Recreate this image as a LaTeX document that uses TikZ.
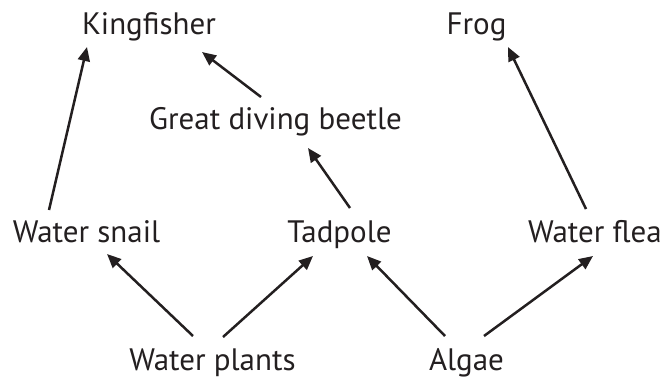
\documentclass[tikz,border=0pt]{standalone}
\usepackage{fontspec}
\setmainfont{PT Sans}
\definecolor{ink}{HTML}{231F20}
\usetikzlibrary{arrows.meta,calc}
\begin{document}
\begin{tikzpicture}[x=1pt,y=-1pt,
  lbl/.style={anchor=base,inner sep=0pt,font=\fontsize{31}{36}\selectfont,text=ink},
  arr/.style={line width=2.5pt,draw=ink,-{Triangle[length=14pt,width=12pt]}}]
\useasboundingbox (0,0) rectangle (666,381);
\node[lbl] (king) at (149,34) {Kingfisher};
\node[lbl] (frog) at (476.5,34) {Frog};
\node[lbl] (beetle) at (275.5,129) {Great diving beetle};
\node[lbl] (snail) at (86.5,242) {Water snail};
\node[lbl] (tad) at (339.5,242) {Tadpole};
\node[lbl] (flea) at (595,242) {Water flea};
\node[lbl] (plants) at (212.5,370) {Water plants};
\node[lbl] (algae) at (466.5,370) {Algae};
\draw[arr] ($(snail.base)+(-37.5,-32)$) -- ($(king.base)+(-62,13)$);
\draw[arr] ($(beetle.base)+(-14.5,-32)$) -- ($(king.base)+(53,18)$);
\draw[arr] ($(tad.base)+(10.5,-34)$) -- ($(beetle.base)+(32.5,19)$);
\draw[arr] ($(flea.base)+(-9,-33)$) -- ($(frog.base)+(31.5,13)$);
\draw[arr] ($(plants.base)+(-19.5,-34)$) -- ($(snail.base)+(20.5,12)$);
\draw[arr] ($(plants.base)+(10.5,-33)$) -- ($(tad.base)+(-26.5,14)$);
\draw[arr] ($(algae.base)+(-21.5,-34)$) -- ($(tad.base)+(27.5,14)$);
\draw[arr] ($(algae.base)+(17.5,-34)$) -- ($(flea.base)+(-2,14)$);
\end{tikzpicture}
\end{document}
